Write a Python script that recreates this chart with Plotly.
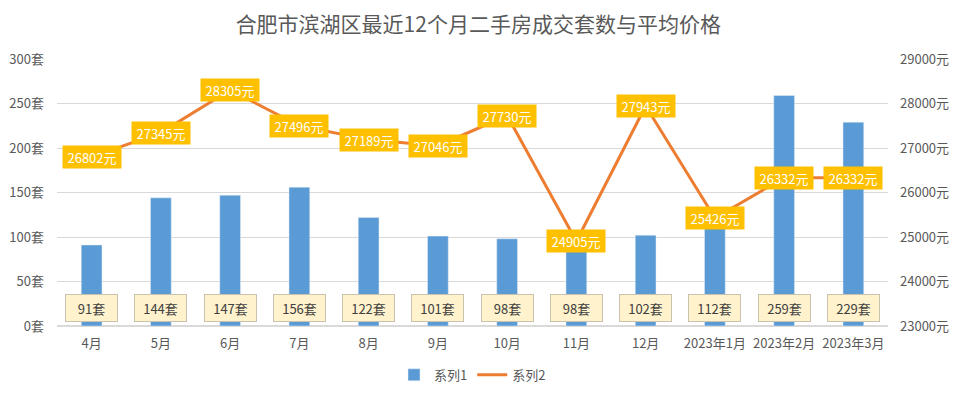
import plotly.graph_objects as go

months = ["4月", "5月", "6月", "7月", "8月", "9月", "10月", "11月", "12月",
          "2023年1月", "2023年2月", "2023年3月"]
counts = [91, 144, 147, 156, 122, 101, 98, 98, 102, 112, 259, 229]
prices = [26802, 27345, 28305, 27496, 27189, 27046, 27730, 24905, 27943,
          25426, 26332, 26332]
left_ticks = [0, 50, 100, 150, 200, 250, 300]
right_ticks = [23000, 24000, 25000, 26000, 27000, 28000, 29000]

FONT = "Noto Sans CJK SC, Microsoft YaHei, sans-serif"
GRAY = "#595959"

fig = go.Figure()
fig.add_trace(go.Bar(x=months, y=counts, name="系列1", marker_color="#5B9BD5",
                     width=0.3, yaxis="y"))
fig.add_trace(go.Scatter(x=months, y=prices, name="系列2", mode="lines",
                         line=dict(color="#ED7D31", width=3), yaxis="y2"))

annotations = []
for m, c in zip(months, counts):
    annotations.append(dict(x=m, y=20, xref="x", yref="y", text=f"{c}套",
                            showarrow=False, bgcolor="#FFF2CC",
                            bordercolor="#C9C2AE", borderwidth=1,
                            width=49, height=24, borderpad=1,
                            font=dict(size=13, color="#404040", family=FONT)))
for m, p in zip(months, prices):
    annotations.append(dict(x=m, y=p, xref="x", yref="y2", text=f"{p}元",
                            showarrow=False, bgcolor="#FFC000",
                            width=56, height=20, borderpad=1,
                            font=dict(size=13, color="white", family=FONT)))

# page body adds an 8px offset; figure sized so the plot lands where the reference has it
fig.update_layout(
    width=952, height=391,
    margin=dict(l=49, r=72, t=51, b=73, autoexpand=False),
    paper_bgcolor="white", plot_bgcolor="white",
    font=dict(family=FONT, color=GRAY, size=13),
    title=dict(text="合肥市滨湖区最近12个月二手房成交套数与平均价格",
               x=0.494, xanchor="center", y=0.958, yanchor="middle",
               yref="container",
               font=dict(size=21, color=GRAY, family=FONT)),
    xaxis=dict(type="category", showgrid=False, showline=False, ticks="",
               automargin=False, ticklabelstandoff=8,
               tickfont=dict(size=13, color=GRAY)),
    yaxis=dict(range=[0, 300], tickvals=left_ticks,
               ticktext=[f"{v}套" for v in left_ticks],
               showgrid=True, gridcolor="#D9D9D9", gridwidth=1,
               zeroline=True, zerolinecolor="#D9D9D9", showline=False,
               automargin=False, ticklabelstandoff=12,
               tickfont=dict(size=13, color=GRAY)),
    yaxis2=dict(range=[23000, 29000], tickvals=right_ticks,
                ticktext=[f"{v}元" for v in right_ticks],
                overlaying="y", side="right", showgrid=False, zeroline=False,
                showline=False, automargin=False, ticklabelstandoff=11,
                tickfont=dict(size=13, color=GRAY)),
    legend=dict(orientation="h", x=0.5, xanchor="center", y=-0.183,
                yanchor="middle", font=dict(size=13, color=GRAY)),
    annotations=annotations,
)

fig.write_html("out.html")
